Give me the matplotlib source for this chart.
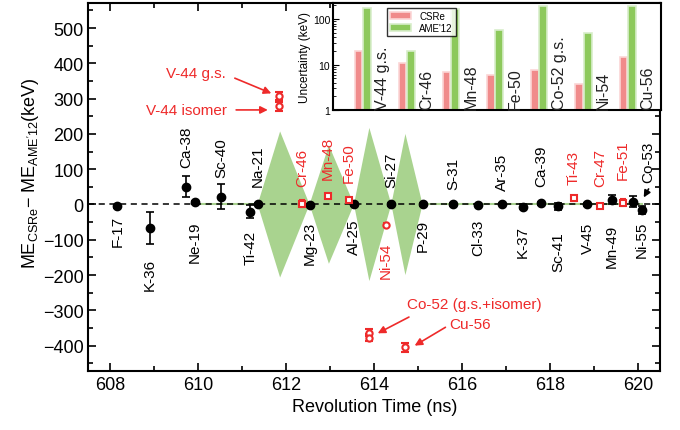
import matplotlib
matplotlib.use('Agg')
import matplotlib.pyplot as plt
import numpy as np

plt.rcParams['font.family'] = ['Liberation Sans', 'DejaVu Sans']
plt.rcParams['mathtext.fontset'] = 'custom'
plt.rcParams['mathtext.rm'] = 'Liberation Sans'

RED = '#ee2a2a'
GREEN = '#a9d38f'

# reference nuclides (black dots)
ref_names = ['F-17', 'K-36', 'Ca-38', 'Ne-19', 'Sc-40', 'Ti-42', 'Na-21', 'Mg-23',
             'Al-25', 'Si-27', 'P-29', 'S-31', 'Cl-33', 'Ar-35', 'K-37', 'Ca-39',
             'Sc-41', 'V-45', 'Mn-49', 'Co-53', 'Ni-55']
ref_t = [608.16, 608.89, 609.72, 609.93, 610.52, 611.18, 611.35, 612.53,
         613.54, 614.39, 615.10, 615.79, 616.37, 616.90, 617.38, 617.80,
         618.19, 618.85, 619.41, 619.88, 620.09]
ref_me = [-5, -67, 50, 6, 22, -20, 2, -1, 0, 0, 0, 0, -1, 2, -6, 3, -5, 0, 14, 8, -15]
ref_err = [4, 45, 30, 4, 35, 18, 3, 3, 3, 3, 3, 3, 3, 3, 6, 4, 10, 5, 12, 15, 12]

# newly measured nuclides (red open markers)
new_names = ['Cr-46', 'Mn-48', 'Fe-50', 'Ni-54', 'Ti-43', 'Cr-47', 'Fe-51']
new_t = [612.36, 612.95, 613.42, 614.27, 618.54, 619.14, 619.66]
new_me = [2, 25, 14, -58, 17, -3, 5]
new_err = [10, 5, 5, 5, 8, 5, 10]

v44_t = 611.84
v44_me = [307, 278]          # g.s., isomer
v44_err = [12, 12]
co52_t = 613.89
co52_me = [-363, -378]
co52_err = [10, 10]
cu56_t = 614.69
cu56_me = -405
cu56_err = 12

# AME'12 uncertainty diamonds
dia_left = [611.35, 612.53, 613.54, 614.39]
dia_peak = [611.86, 612.97, 613.89, 614.71]
dia_right = [612.53, 613.54, 614.39, 615.10]
dia_half = [207, 168, 217, 200]

# inset: uncertainties
inset_names = ['V-44 g.s.', 'Cr-46', 'Mn-48', 'Fe-50', 'Co-52 g.s.', 'Ni-54', 'Cu-56']
unc_csre = [19.5, 10.7, 6.7, 5.8, 7.6, 3.7, 14.3]
unc_ame = [173, 19.5, 167, 58, 198, 49, 198]

# label placement (bottom of text if >0, top if <0)
ref_label_y = [-30, -150, 105, -45, 77, -73, 53, -45, -40, 49, -40, 44, -40, 42,
               -57, 53, -77, -50, -55, 63, -45]
new_label_y = [53, 72, 65, -106, 58, 53, 72]

fig = plt.figure(figsize=(6.8, 4.31), dpi=100)
ax = fig.add_axes([0.130, 0.1376, 0.8406, 0.8531])

for l, p, r, h in zip(dia_left, dia_peak, dia_right, dia_half):
    ax.fill([l, p, r, p], [0, h, 0, -h], color=GREEN, lw=0, zorder=1)
ax.plot([609.9, 620.1], [0, 0], color=GREEN, lw=1.5, zorder=1)
ax.axhline(0, color='black', ls=(0, (4, 3)), lw=1.1, zorder=2)

ax.errorbar(ref_t, ref_me, yerr=ref_err, fmt='o', color='black', ms=6,
            capsize=3, elinewidth=1.2, capthick=1.2, zorder=4)

sq_t = [t for t, n in zip(new_t, new_names) if n != 'Ni-54']
sq_me = [m for m, n in zip(new_me, new_names) if n != 'Ni-54']
sq_err = [e for e, n in zip(new_err, new_names) if n != 'Ni-54']
ax.errorbar(sq_t, sq_me, yerr=sq_err, fmt='s', color=RED, mfc='white', ms=4.5,
            mew=1.5, capsize=2.5, elinewidth=1.2, capthick=1.2, zorder=5)
i = new_names.index('Ni-54')
ax.errorbar([new_t[i]], [new_me[i]], yerr=[new_err[i]], fmt='o', color=RED, mfc='white',
            ms=4.5, mew=1.5, capsize=2.5, elinewidth=1.2, zorder=5)
ax.errorbar([v44_t] * 2, v44_me, yerr=v44_err, fmt='o', color=RED, mfc='white',
            ms=4.5, mew=1.5, capsize=3, elinewidth=1.2, capthick=1.2, zorder=5)
ax.errorbar([co52_t] * 2, co52_me, yerr=co52_err, fmt='o', color=RED, mfc='white',
            ms=4.5, mew=1.5, capsize=3, elinewidth=1.2, capthick=1.2, zorder=5)
ax.errorbar([cu56_t], [cu56_me], yerr=[cu56_err], fmt='o', color=RED, mfc='white',
            ms=4.5, mew=1.5, capsize=3, elinewidth=1.2, capthick=1.2, zorder=5)

for n, t, ly in zip(ref_names, ref_t, ref_label_y):
    x = 620.24 if n == 'Co-53' else t
    ax.text(x, ly, n, rotation=90, ha='center', va='bottom' if ly > 0 else 'top',
            fontsize=11, color='black', zorder=6)
for n, t, ly in zip(new_names, new_t, new_label_y):
    ax.text(t, ly, n, rotation=90, ha='center', va='bottom' if ly > 0 else 'top',
            fontsize=11, color=RED, zorder=6)

arrow = dict(arrowstyle='-|>', color=RED, lw=1.2, mutation_scale=11, shrinkA=0, shrinkB=0)
ax.text(609.95, 372, 'V-44 g.s.', color=RED, fontsize=11, ha='center', va='center')
ax.annotate('', xy=(611.66, 315), xytext=(610.83, 358), arrowprops=arrow)
ax.text(609.73, 268, 'V-44 isomer', color=RED, fontsize=11, ha='center', va='center')
ax.annotate('', xy=(611.58, 268), xytext=(610.86, 268), arrowprops=arrow)
ax.text(614.74, -282, 'Co-52 (g.s.+isomer)', color=RED, fontsize=11, ha='left', va='center')
ax.annotate('', xy=(614.08, -365), xytext=(614.79, -319), arrowprops=arrow)
ax.text(615.71, -339, 'Cu-56', color=RED, fontsize=11, ha='left', va='center')
ax.annotate('', xy=(614.92, -400), xytext=(615.62, -348), arrowprops=arrow)
ax.annotate('', xy=(620.13, 20), xytext=(620.24, 44),
            arrowprops=dict(arrowstyle='-|>', color='black', lw=1.2, mutation_scale=10,
                            shrinkA=0, shrinkB=0))

ax.set_xlim(607.5, 620.5)
ax.set_ylim(-471, 571)
ax.set_xticks(np.arange(608, 621, 2))
ax.set_xticks(np.arange(608, 621, 1), minor=True)
ax.set_yticks(np.arange(-400, 501, 100))
ax.set_yticks(np.arange(-450, 571, 50), minor=True)
ax.tick_params(which='both', direction='in', top=True, right=True, labelsize=13, width=1.2)
ax.tick_params(which='major', length=6)
ax.tick_params(which='minor', length=3.5)
for s in ax.spines.values():
    s.set_linewidth(1.5)
ax.set_xlabel('Revolution Time (ns)', fontsize=13, labelpad=4)
ax.set_ylabel(r"ME$_{\mathregular{CSRe}}$$-$ ME$_{\mathregular{AME'12}}$(keV)", fontsize=13)
ax.yaxis.set_label_coords(-0.083, 0.54)

# inset
ins = fig.add_axes([0.4897, 0.7425, 0.4819, 0.2482])
x = np.arange(len(inset_names))
ins.bar(x - 0.095, unc_csre, width=0.17, color='#f08b8b', edgecolor='#fbd6d6', lw=1.2,
        label='CSRe')
ins.bar(x + 0.095, unc_ame, width=0.18, color='#8dc95c', edgecolor='#d8eecb', lw=1.2,
        label="AME'12")
for xi, n in zip(x, inset_names):
    ins.text(xi + 0.45, 1.05, n, rotation=90, ha='center', va='bottom', fontsize=11.5,
             color='#222222')
ins.set_yscale('log')
ins.set_ylim(1, 226)
ins.set_xlim(-0.67, 6.75)
ins.set_xticks([])
ins.tick_params(axis='y', which='both', direction='in', labelsize=7.5, pad=2)
ins.tick_params(axis='y', which='major', length=4)
ins.tick_params(axis='y', which='minor', length=2)
ins.set_yticks([1, 10, 100])
ins.set_yticklabels(['1', '10', '100'])
ins.set_ylabel('Uncertainty (keV)', fontsize=8.5, labelpad=1)
for s in ins.spines.values():
    s.set_linewidth(1.5)
ins.legend(loc='upper left', bbox_to_anchor=(0.15, 1.0), fontsize=7, frameon=True,
           fancybox=False, edgecolor='black', borderpad=0.3, handlelength=2.2,
           labelspacing=0.2)

fig.savefig('out.png', dpi=100)
